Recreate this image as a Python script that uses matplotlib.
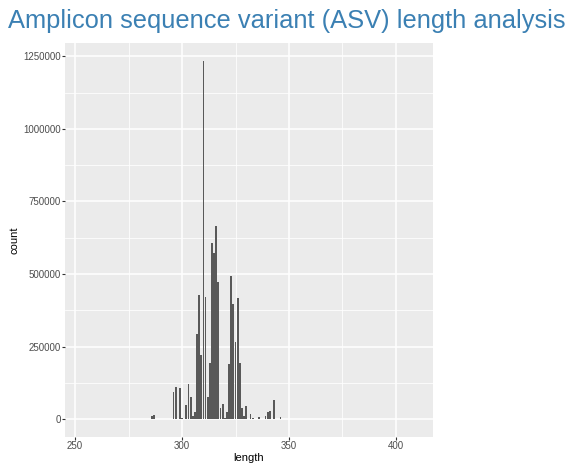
import matplotlib
matplotlib.use("Agg")
import matplotlib.pyplot as plt
from matplotlib.ticker import MultipleLocator

plt.rcParams['font.family'] = ['Liberation Sans', 'DejaVu Sans']

lengths = [286, 287, 296, 297, 299, 300, 302, 303, 304, 305, 306, 307, 308, 309,
           310, 311, 312, 313, 314, 315, 316, 317, 318, 319, 320, 321, 322, 323,
           324, 325, 326, 327, 328, 329, 330, 331, 332, 333, 336, 339, 340, 341,
           343, 346, 360, 367]
counts = [11000, 14000, 94000, 112000, 107000, 3000, 50000, 120000, 77000, 9000,
          26000, 293000, 428000, 221000, 1234000, 421000, 76000, 193000, 606000,
          571000, 666000, 474000, 38000, 53000, 4000, 26000, 190000, 492000,
          397000, 267000, 418000, 194000, 38000, 10000, 46000, 2000, 16000, 3000,
          6000, 9000, 23000, 29000, 67000, 6000, 1500, 1500]

title = "Amplicon sequence variant (ASV) length analysis"
x_ticks = [250, 300, 350, 400]
y_ticks = [0, 250000, 500000, 750000, 1000000, 1250000]

fig = plt.figure(figsize=(5.74, 4.67), dpi=100)
ax = fig.add_axes([65/574, 1-437/467, (433-65)/574, (437-43)/467])
ax.set_facecolor('#ebebeb')
for s in ax.spines.values():
    s.set_visible(False)

ax.bar(lengths, counts, width=0.85, color='#595959', zorder=3)

ax.set_xlim(245.3, 417.3)
ax.set_ylim(-61700, 1296000)
ax.set_xticks(x_ticks)
ax.set_yticks(y_ticks)
ax.set_yticklabels([str(v) for v in y_ticks])
ax.xaxis.set_minor_locator(MultipleLocator(25))
ax.yaxis.set_minor_locator(MultipleLocator(125000))
ax.grid(which='major', color='white', linewidth=1.1, zorder=0)
ax.grid(which='minor', color='white', linewidth=0.55, zorder=0)
ax.set_axisbelow(True)
ax.tick_params(which='major', length=2.0, width=0.8, color='#333333',
               labelsize=7, labelcolor='#4d4d4d', pad=0.8)
ax.tick_params(which='minor', length=0)

ax.set_xlabel('length', fontsize=8, color='black', labelpad=1.5)
ax.set_ylabel('count', fontsize=8, color='black', labelpad=3)

fig.text(8/574, 1-28/467, title, fontsize=18.4, color='#3b80b3', ha='left', va='baseline')

fig.savefig('out.png', dpi=100)
